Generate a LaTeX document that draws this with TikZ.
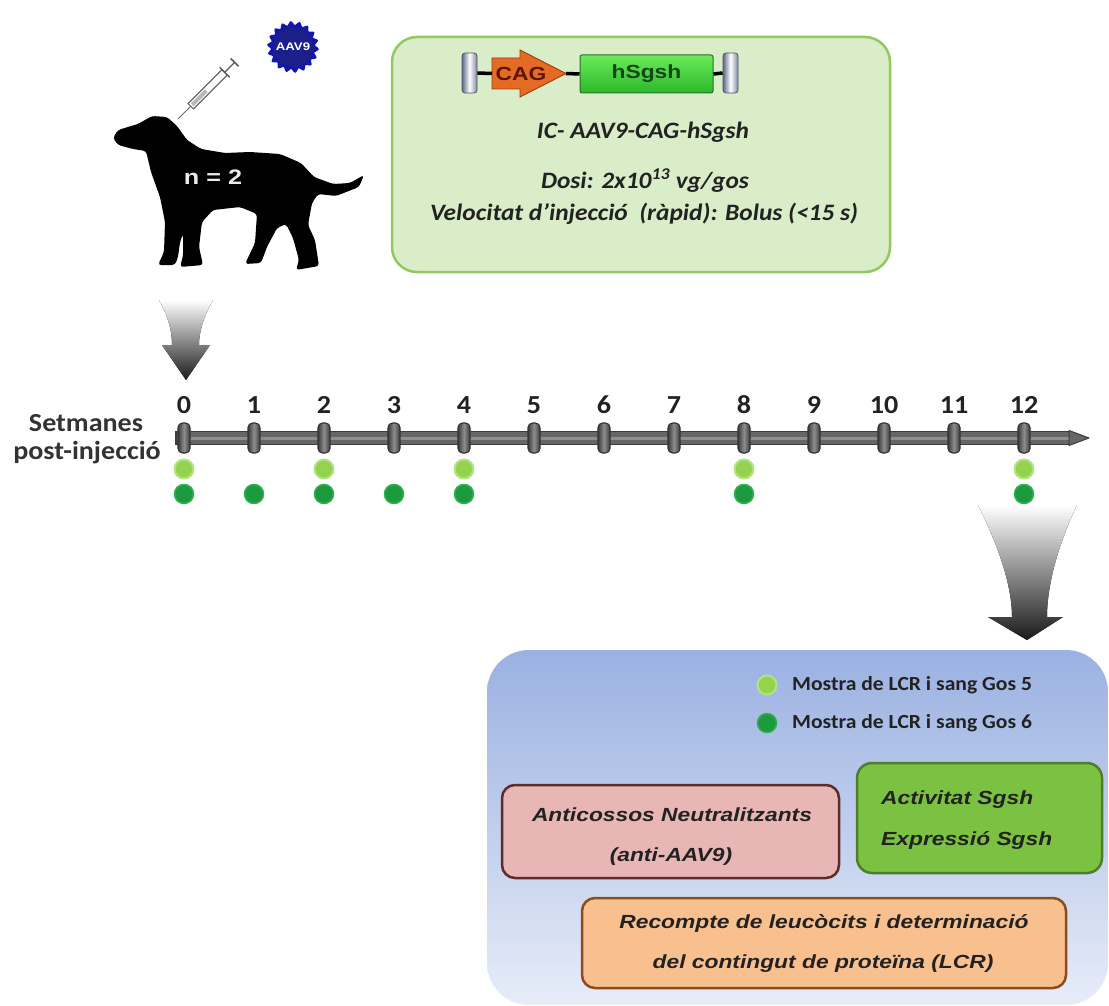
\documentclass[tikz,border=0pt]{standalone}
\usepackage{fontspec}
\setmainfont{Carlito}
\newfontfamily\calfont[FakeStretch=1.08]{Carlito}
\newfontfamily\arifont[FakeStretch=1.2]{Liberation Sans}
\usetikzlibrary{calc}
\newcommand{\fsz}[1]{\fontsize{#1}{#1}\selectfont}

\definecolor{navyb}{HTML}{1B1F8A}
\definecolor{vecFill}{HTML}{D9EDC8}
\definecolor{vecLine}{HTML}{92C95E}
\definecolor{barDark}{HTML}{3C3C3C}
\definecolor{barMid}{HTML}{666666}
\definecolor{barLight}{HTML}{8E8E8E}
\definecolor{dotLight}{HTML}{95D34F}
\definecolor{dotLightRing}{HTML}{B2E385}
\definecolor{dotDark}{HTML}{1E9A3E}
\definecolor{dotDarkRing}{HTML}{2DB04F}
\definecolor{blueTop}{HTML}{9AB1E1}
\definecolor{blueBot}{HTML}{E7ECF8}
\definecolor{pinkFill}{HTML}{E7B6B5}
\definecolor{pinkLine}{HTML}{5E2B2B}
\definecolor{limeFill}{HTML}{7CC242}
\definecolor{limeLine}{HTML}{4E7D2C}
\definecolor{peachFill}{HTML}{F9C08F}
\definecolor{peachLine}{HTML}{8E4B1C}
\definecolor{cagFill}{HTML}{E56B25}
\definecolor{cagLine}{HTML}{9A3E0C}
\definecolor{cagText}{HTML}{5B1400}
\definecolor{geneTop}{HTML}{6BEA5A}
\definecolor{geneBot}{HTML}{2BB82B}
\definecolor{geneLine}{HTML}{2E6B2A}
\definecolor{geneText}{HTML}{17451A}
\definecolor{itrEdge}{HTML}{5C6A8A}
\definecolor{ink}{HTML}{222222}

\begin{document}
\begin{tikzpicture}[x=1pt,y=-1pt,
  wk/.style={inner sep=0pt, font=\calfont\bfseries\fsz{26}, text=ink},
  axislabel/.style={inner sep=0pt, font=\calfont\bfseries\fsz{26}, text=black!80},
  vectxt/.style={inner sep=0pt, font=\calfont\bfseries\itshape\fsz{23.5}, text=ink},
  boxtxt/.style={inner sep=0pt, font=\arifont\bfseries\itshape\fsz{19}, text=ink},
  legtxt/.style={inner sep=0pt, anchor=west, font=\calfont\bfseries\fsz{20}, text=ink},
  tickmark/.style={rectangle, rounded corners=4.5pt, minimum width=12pt, minimum height=30pt,
     left color=barDark, right color=barDark, middle color=barLight, draw=black!80, line width=1.1pt},
  ldot/.style={circle, minimum size=19pt, inner sep=0pt, fill=dotLight, draw=dotLightRing, line width=2pt},
  ddot/.style={circle, minimum size=19pt, inner sep=0pt, fill=dotDark, draw=dotDarkRing, line width=1.5pt},
  itr/.style={rectangle, rounded corners=3pt, minimum width=15pt, minimum height=40pt,
     left color=itrEdge, right color=itrEdge!80, middle color=white, draw=itrEdge!80!black, line width=0.8pt},
  link/.style={line width=3.5pt, black},
  genebox/.style={rectangle, rounded corners=2pt, minimum width=133pt, minimum height=38pt,
     top color=geneTop, bottom color=geneBot, draw=geneLine, line width=1pt,
     font=\arifont\bfseries\fsz{19}, text=geneText},
  roundbox/.style={rectangle, line width=2.5pt},
  fadearrow/.style={top color=white, bottom color=black!90}
]
\useasboundingbox (0,0) rectangle (1109,1006);
\clip (0,0) rectangle (1109,1006);

% ---------- dog silhouette ----------
\fill[black, rounded corners=3pt]
  (113,138) -- (118,130) -- (138,124) -- (152,116) -- (167,117) -- (177,126)
  -- (187,140) -- (201,149) -- (225,153) -- (250,152) -- (280,154) -- (301,163)
  -- (314,177) -- (333,184) -- (350,183) -- (364,175) -- (359,187) -- (336,196)
  -- (318,194) -- (312,203) -- (308,225) -- (315,240) -- (319,266) -- (296,270)
  -- (299,260) -- (293,238) -- (286,224) -- (277,228) -- (267,247) -- (261,263)
  -- (245,264) -- (255,243) -- (257,214) -- (240,207) -- (213,210) -- (202,222)
  -- (199,247) -- (203,265) -- (180,267) -- (183,256) -- (183,234) -- (180,242)
  -- (178,257) -- (175,265) -- (158,265) -- (164,252) -- (165,222) -- (160,197)
  -- (151,172) -- (146,151) -- (133,149) -- (118,145) -- cycle;
\node[inner sep=0pt, font=\arifont\bfseries\fsz{21}, text=white!85!gray] (ncount) at (213,177) {n = 2};

% ---------- syringe ----------
\begin{scope}[shift={(178,119)}, rotate=45]
  \draw[gray!80!black, line width=1pt] (0,0) -- (18,0);
  \draw[gray!70!black, fill=white, line width=0.9pt] (18,-3.8) rectangle (66,3.8);
  \fill[gray!55] (20,-2) rectangle (40,2);
  \draw[gray!70!black, line width=1.4pt] (66,-7) -- (66,7);
  \draw[gray!70!black, line width=1.4pt] (66,0) -- (80,0);
  \draw[gray!70!black, line width=1.6pt] (80,-5.5) -- (80,5.5);
\end{scope}

% ---------- AAV9 capsid ----------
\begin{scope}[shift={(293,47)}]
  \fill[navyb!70!blue] plot[smooth cycle, samples=72, domain=0:355] (\x:{24+2*sin(18*\x)});
  \fill[navyb] (0,0) circle (20);
\end{scope}
\node[inner sep=0pt, font=\arifont\bfseries\fsz{11}, text=white] (aav) at (293,47) {AAV9};

% ---------- vector box ----------
\node[rectangle, rounded corners=25pt, minimum width=498pt, minimum height=235pt,
      fill=vecFill, draw=vecLine, line width=2.5pt] (vec) at (641,154.5) {};

\node[itr] (itrL) at (469.5,73) {};
\node[itr] (itrR) at (730.5,73) {};
\fill[cagFill, draw=cagLine, line width=0.9pt]
  (492,58) -- (520,58) -- (520,50) -- (566,73.5) -- (520,97) -- (520,89) -- (492,89) -- cycle;
\coordinate (cagL) at (492,73.5);
\coordinate (cagR) at (566,73.5);
\node[inner sep=0pt, font=\arifont\bfseries\fsz{19}, text=cagText] (cag) at (521,74) {CAG};
\node[genebox] (gene) at (646.5,74) {hSgsh};
\draw[link] (itrL.east) -- (cagL);
\draw[link] (cagR) -- (gene.west);
\draw[link] (gene.east) -- (itrR.west);

\node[vectxt] (vname) at (643,132) {IC- AAV9-CAG-hSgsh};
\node[vectxt] (vdose) at (645,181) {Dosi: 2x10\textsuperscript{13} vg/gos};
\node[vectxt] (vspeed) at (644,214) {Velocitat d’injecció\ \ (ràpid): Bolus (<15 s)};

% ---------- arrow from dog to timeline ----------
\fill[fadearrow]
  (159,300) -- (213,300) .. controls (203,318) and (199,332) .. (199,345)
  -- (210,345) -- (186,380) -- (162,345) -- (172,345)
  .. controls (172,332) and (169,318) .. (159,300) -- cycle;

% ---------- timeline ----------
\node[axislabel] (lab1) at (86,423) {Setmanes};
\node[axislabel] (lab2) at (87,453) {post-injecció};

\fill[barMid, draw=barDark, line width=1.5pt] (176,431.5) rectangle (1070,444.5);
\fill[barLight] (177,436.5) rectangle (1069,439.5);
\fill[barMid, draw=barDark, line width=1pt, line join=round] (1069,430.5) -- (1089,438) -- (1069,445.5) -- cycle;

\foreach \i in {0,...,12} {
  \node[tickmark] (t\i) at ({184+70*\i},438) {};
  \node[wk] (w\i) at ({184+70*\i},405) {\i};
}
\foreach \i in {0,2,4,8,12} {
  \node[ldot] (l\i) at ({184+70*\i},469) {};
}
\foreach \i in {0,1,2,3,4,8,12} {
  \node[ddot] (d\i) at ({184+70*\i},494) {};
}

% ---------- arrow from timeline to analyses ----------
\fill[fadearrow]
  (978,505) -- (1077,505) .. controls (1058,545) and (1047,585) .. (1047,617)
  -- (1063,617) -- (1027,640) -- (988,617) -- (1012,617)
  .. controls (1012,585) and (998,545) .. (978,505) -- cycle;

% ---------- analyses panel ----------
\path[top color=blueTop, bottom color=blueBot, rounded corners=42pt]
  (487,650) rectangle (1108,1005);

\node[ldot] (legL) at (767,685) {};
\node[ddot] (legD) at (767,723) {};
\node[legtxt] (legLt) at (792,685) {Mostra de LCR i sang Gos 5};
\node[legtxt] (legDt) at (792,723) {Mostra de LCR i sang Gos 6};

\node[roundbox, rounded corners=13pt, minimum width=337pt, minimum height=93pt,
      fill=pinkFill, draw=pinkLine] (nab) at (670.5,831.5) {};
\node[boxtxt] (nab1) at (672,815) {Anticossos Neutralitzants};
\node[boxtxt] (nab2) at (671,857) {(anti-AAV9)};

\node[roundbox, rounded corners=15pt, minimum width=245pt, minimum height=110pt,
      fill=limeFill, draw=limeLine] (enz) at (979.5,818) {};
\node[boxtxt, anchor=west] (enz1) at (881,800) {Activitat Sgsh};
\node[boxtxt, anchor=west] (enz2) at (881,840) {Expressió Sgsh};

\node[roundbox, rounded corners=13pt, minimum width=484pt, minimum height=90pt,
      fill=peachFill, draw=peachLine] (csf) at (824,943) {};
\node[boxtxt] (csf1) at (824,923) {Recompte de leucòcits i determinació};
\node[boxtxt] (csf2) at (823,964) {del contingut de proteïna (LCR)};
\end{tikzpicture}
\end{document}
